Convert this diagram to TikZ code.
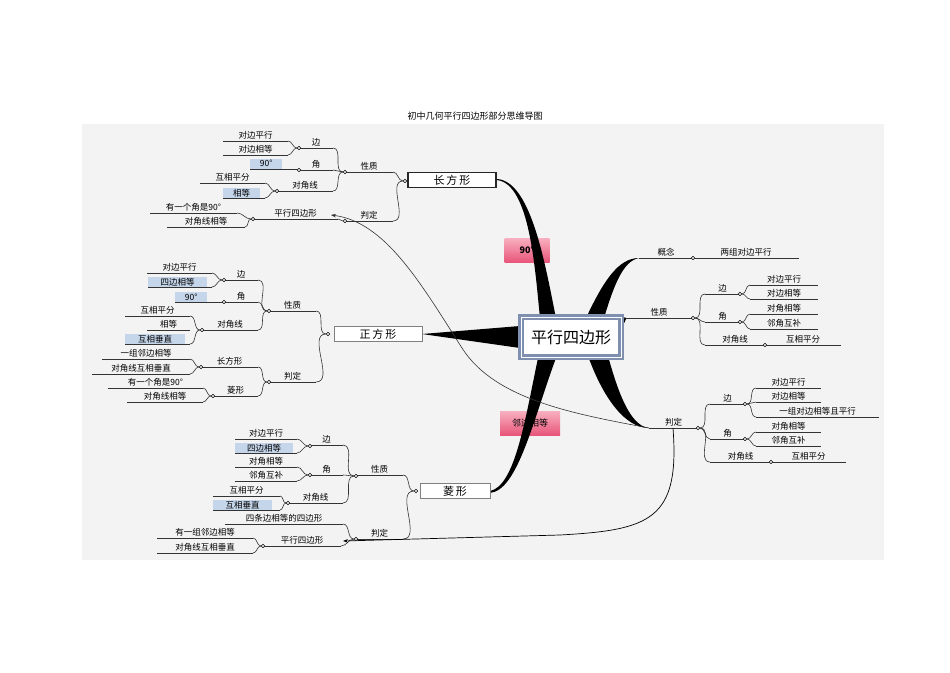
\documentclass[tikz,border=0pt]{standalone}
\usepackage{fontspec}
\setmainfont{Noto Sans CJK SC}
\usetikzlibrary{arrows.meta}
\definecolor{bgc}{HTML}{F3F3F3}
\definecolor{bluef}{HTML}{C5D5EA}
\definecolor{pinkt}{HTML}{F8B0C0}
\definecolor{pinkb}{HTML}{E8567A}
\definecolor{cframe}{HTML}{7F8FB0}
\tikzset{
 thinl/.style={draw=black!80,line width=0.6pt},
 lbl/.style={anchor=south,inner sep=1.2pt,font=\fontsize{8.5}{9}\selectfont},
 bxs/.style={fill=bluef,anchor=south west,inner sep=0pt,minimum height=10pt,font=\fontsize{8.5}{9}\selectfont},
 jc/.style={circle,inner sep=0pt,minimum size=3.6pt},
 topic/.style={draw=black!85,line width=1.3pt,fill=white,inner sep=0pt,minimum height=15pt,font=\fontsize{11}{12}\selectfont},
 pinkbox/.style={top color=pinkt,bottom color=pinkb,inner sep=0pt,minimum height=24pt,font=\bfseries\fontsize{9}{10}\selectfont},
 thick branch/.style={fill=black},
 arr/.style={-{Stealth[length=5pt,width=3.5pt]}}
}
\newcommand\LN[6][]{\draw[thinl] (#3,#5) coordinate (#2L) -- (#4,#5) coordinate (#2R); \node[lbl,#1] (#2) at ({(#3+#4)/2},#5) {#6};}
\newcommand\BX[6]{\node[bxs,minimum width={(#3-#2)*1pt}] (#1) at (#2,#5) {#6}; \draw[thinl] (#2,#5) coordinate (#1L) -- (#4,#5) coordinate (#1R);}
\newcommand\JC[3]{\node[jc] (#1) at (#2,#3) {};}
\newcommand\CL[2]{\draw[thinl] (#1) to[out=0,in=180] (#2);}
\newcommand\CR[2]{\draw[thinl] (#1) to[out=0,in=180] (#2);}
\begin{document}
\begin{tikzpicture}[x=1pt,y=-1pt]
\useasboundingbox (0,0) rectangle (950,672);
\fill[white] (0,0) rectangle (950,672);
\fill[bgc] (82,124) rectangle (884,560);
\node[font=\fontsize{9}{10}\selectfont] (title) at (475,116) {初中几何平行四边形部分思维导图};

% ---------- junction circles ----------
\JC{rJ}{405}{181}\JC{rXZJ}{345}{172}\JC{rBJ}{299}{148}\JC{rAJ}{299}{170}\JC{rDJ}{277}{191}\JC{rPDJ}{345}{221}\JC{rPJ}{253}{219}
\JC{sJ}{328}{334}\JC{sXZJ}{269}{311}\JC{sBJ}{224}{280}\JC{sAJ}{224}{302}\JC{sDJ}{202}{330}\JC{sPDJ}{269}{382}\JC{sRJ}{201}{367}\JC{sLJ}{213}{396}
\JC{lJ}{416}{491}\JC{lXZJ}{356}{476}\JC{lBJ}{310}{446}\JC{lAJ}{310}{475}\JC{lDJ}{288}{503}\JC{lPDJ}{356}{539}\JC{lPJ}{263}{546}
\JC{pGNJ}{693}{258}\JC{pXZJ}{693}{318}\JC{pBJ}{740}{294}\JC{pAJ}{740}{322}\JC{pDJ}{765}{345}\JC{pPDJ}{698}{428}\JC{pJBJ}{745}{404}\JC{pJAJ}{745}{439}\JC{pJDJ}{771}{462}

% ---------- pink boxes ----------
\node[pinkbox,minimum width=45pt] (p90) at (527,250) {90°};
\node[pinkbox,minimum width=60pt,font=\fontsize{9}{10}\selectfont] (plb) at (530,423) {邻边相等};

% ---------- thick branches ----------
\fill[thick branch] (497,180) .. controls (530,184) and (535,270) .. (540,318) -- (556,318) .. controls (546,270) and (532,181) .. (497,179) -- cycle;
\fill[thick branch] (422,334) -- (520,326) -- (520,348) -- cycle;
\fill[thick branch] (490,491) .. controls (515,486) and (525,420) .. (538,358) -- (556,358) .. controls (533,420) and (518,490) .. (490,493) -- cycle;
\fill[thick branch] (586,318) .. controls (603,282) and (618,258) .. (639,258) .. controls (623,261) and (614,285) .. (604,318) -- cycle;
\fill[thick branch] (616,328) -- (625,317) -- (626,319) -- (621,330) -- cycle;
\fill[thick branch] (588,356) .. controls (604,400) and (626,428) .. (649,428) .. controls (630,426) and (618,392) .. (608,356) -- cycle;

% ---------- central ----------
\node[draw=cframe,line width=3pt,double=white,double distance=0.6pt,fill=white,minimum width=100pt,minimum height=40pt,inner sep=0pt,font=\fontsize{16}{17}\selectfont] (center) at (571,337) {平行四边形};

% ---------- 长方形 ----------
\node[topic,minimum width=88pt] (rbox) at (452,180) {长\,方\,形};
\LN{rXZ}{345}{393}{172}{性质}\CL{rXZR}{rJ}
\LN{rB}{299}{333}{148}{边}\CL{rBR}{rXZJ}
\LN{rB1}{223}{288}{141}{对边平行}\CL{rB1R}{rBJ}
\LN{rB2}{223}{288}{155}{对边相等}\CL{rB2R}{rBJ}
\LN{rA}{299}{333}{170}{角}\CL{rAR}{rXZJ}
\BX{rA1}{250}{282}{299}{169}{90°}
\LN{rD}{277}{333}{191}{对角线}\CL{rDR}{rXZJ}
\LN{rD1}{200}{265}{183}{互相平分}\CL{rD1R}{rDJ}
\BX{rD2}{223}{260}{265}{198}{相等}\CL{rD2R}{rDJ}
\LN{rPD}{345}{393}{221}{判定}\CL{rPDR}{rJ}
\LN{rP}{253}{338}{219}{平行四边形}\CL{rPR}{rPDJ}
\LN{rP1}{150}{237}{213}{有一个角是90°}\CL{rP1R}{rPJ}
\LN{rP2}{167}{245}{227}{对角线相等}\CL{rP2R}{rPJ}

% ---------- 正方形 ----------
\node[topic,draw=black!50,line width=1pt,minimum width=88pt] (sbox) at (378,334) {正\,方\,形};
\LN{sXZ}{269}{316}{311}{性质}\CL{sXZR}{sJ}
\LN{sB}{224}{258}{280}{边}\CL{sBR}{sXZJ}
\LN{sB1}{147}{212}{273}{对边平行}\CL{sB1R}{sBJ}
\BX{sB2}{148}{207}{212}{287}{四边相等}\CL{sB2R}{sBJ}
\LN{sA}{224}{258}{302}{角}\CL{sAR}{sXZJ}
\BX{sA1}{175}{207}{224}{302}{90°}
\LN{sD}{202}{258}{330}{对角线}\CL{sDR}{sXZJ}
\LN{sD1}{125}{190}{316}{互相平分}\CL{sD1R}{sDJ}
\LN{sD2}{147}{190}{330}{相等}
\BX{sD3}{125}{185}{190}{344}{互相垂直}\CL{sD3R}{sDJ}
\LN{sPD}{269}{316}{382}{判定}\CL{sPDR}{sJ}
\LN{sR}{201}{258}{367}{长方形}\CL{sRR}{sPDJ}
\LN{sR1}{102}{190}{359}{一组邻边相等}\CL{sR1R}{sRJ}
\LN{sR2}{92}{190}{374}{对角线互相垂直}\CL{sR2R}{sRJ}
\LN{sL}{213}{258}{396}{菱形}\CL{sLR}{sPDJ}
\LN{sL1}{108}{203}{388}{有一个角是90°}\CL{sL1R}{sLJ}
\LN{sL2}{127}{203}{402}{对角线相等}\CL{sL2R}{sLJ}

% ---------- 菱形 ----------
\node[topic,draw=black!50,line width=1pt,minimum width=70pt] (lbox) at (455,491) {菱\,形};
\LN{lXZ}{356}{403}{475}{性质}\CL{lXZR}{lJ}
\LN{lB}{310}{343}{445}{边}\CL{lBR}{lXZJ}
\LN{lB1}{235}{297}{439}{对边平行}\CL{lB1R}{lBJ}
\BX{lB2}{235}{293}{297}{453}{四边相等}\CL{lB2R}{lBJ}
\LN{lA}{310}{343}{475}{角}\CL{lAR}{lXZJ}
\LN{lA1}{235}{297}{467}{对角相等}\CL{lA1R}{lAJ}
\LN{lA2}{235}{297}{481}{邻角互补}\CL{lA2R}{lAJ}
\LN{lD}{288}{343}{503}{对角线}\CL{lDR}{lXZJ}
\LN{lD1}{213}{280}{496}{互相平分}\CL{lD1R}{lDJ}
\BX{lD2}{213}{272}{280}{510}{互相垂直}\CL{lD2R}{lDJ}
\LN{lPD}{356}{403}{539}{判定}\CL{lPDR}{lJ}
\LN{lQ}{225}{343}{524}{四条边相等的四边形}\CL{lQR}{lPDJ}
\LN{lP}{263}{341}{546}{平行四边形}\CL{lPR}{lPDJ}
\LN{lP1}{157}{253}{538}{有一组邻边相等}\CL{lP1R}{lPJ}
\LN{lP2}{157}{253}{553}{对角线互相垂直}\CL{lP2R}{lPJ}

% ---------- 平行四边形 right ----------
\LN{pGN}{639}{693}{258}{概念}
\LN{pGN1}{693}{799}{258}{两组对边平行}
\LN{pXZ}{625}{693}{318}{性质}
\LN{pB}{705}{740}{294}{边}\CR{pXZJ}{pBL}
\LN{pB1}{750}{818}{285}{对边平行}\CR{pBJ}{pB1L}
\LN{pB2}{750}{818}{299}{对边相等}\CR{pBJ}{pB2L}
\LN{pA}{705}{740}{322}{角}\CR{pXZJ}{pAL}
\LN{pA1}{750}{818}{314}{对角相等}\CR{pAJ}{pA1L}
\LN{pA2}{750}{818}{329}{邻角互补}\CR{pAJ}{pA2L}
\LN{pD}{705}{765}{345}{对角线}\CR{pXZJ}{pDL}
\LN{pD1}{765}{841}{345}{互相平分}
\LN{pPD}{649}{698}{428}{判定}
\LN{pJB}{710}{745}{404}{边}\CR{pPDJ}{pJBL}
\LN{pJB1}{756}{821}{388}{对边平行}\CR{pJBJ}{pJB1L}
\LN{pJB2}{756}{821}{402}{对边相等}\CR{pJBJ}{pJB2L}
\LN{pJB3}{756}{879}{417}{一组对边相等且平行}\CR{pJBJ}{pJB3L}
\LN{pJA}{710}{745}{439}{角}\CR{pPDJ}{pJAL}
\LN{pJA1}{756}{821}{432}{对角相等}\CR{pJAJ}{pJA1L}
\LN{pJA2}{756}{821}{446}{邻角互补}\CR{pJAJ}{pJA2L}
\LN{pJD}{710}{771}{462}{对角线}\CR{pPDJ}{pJDL}
\LN{pJD1}{771}{846}{462}{互相平分}

% ---------- thin long curves ----------
\coordinate (pPDM) at (673,428);
\coordinate (lArr) at (343,541);
\coordinate (rArr) at (331,215);
\draw[thinl,arr] (pPDL) .. controls (575,414) and (495,400) .. (462,348) .. controls (420,282) and (385,222) .. (rArr);
\draw[line width=0.7pt,arr] (pPDM) .. controls (680,520) and (650,530) .. (560,535) -- (lArr);

% ---------- draw circles on top ----------
\foreach \n in {rJ,rXZJ,rBJ,rAJ,rDJ,rPDJ,rPJ,sJ,sXZJ,sBJ,sAJ,sDJ,sPDJ,sRJ,sLJ,lJ,lXZJ,lBJ,lAJ,lDJ,lPDJ,lPJ,pGNJ,pXZJ,pBJ,pAJ,pDJ,pPDJ,pJBJ,pJAJ,pJDJ}
  \draw[line width=0.5pt,fill=white] (\n.center) circle (1.8);
\end{tikzpicture}
\end{document}
